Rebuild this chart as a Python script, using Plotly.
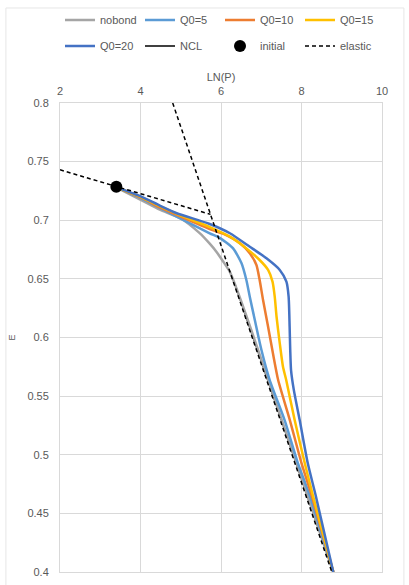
import plotly.graph_objects as go

# ---------------- data ----------------
nobond_lnp = [3.40, 4.03, 4.48, 5.00, 5.47, 5.72, 5.89, 6.05, 6.22, 6.35, 6.58, 6.865, 7.09, 7.51, 7.875, 8.145, 8.79]
nobond_e   = [0.728, 0.7170, 0.7090, 0.7015, 0.6890, 0.6800, 0.6730, 0.6650, 0.6560, 0.6450, 0.6234, 0.5950, 0.5722, 0.5296, 0.4929, 0.4656, 0.400]

q5_lnp = [3.40, 4.03, 4.48, 4.90, 5.72, 5.97, 6.30, 6.51, 6.63, 6.715, 6.84, 7.005, 7.21, 7.58, 7.91, 8.20, 8.79]
q5_e   = [0.728, 0.7185, 0.7105, 0.7030, 0.6889, 0.6850, 0.6760, 0.6633, 0.6490, 0.6348, 0.6149, 0.5893, 0.5637, 0.5296, 0.4929, 0.4656, 0.400]

q10_lnp = [3.40, 4.03, 4.48, 4.90, 5.72, 6.05, 6.47, 6.715, 6.88, 6.96, 7.045, 7.17, 7.29, 7.42, 7.71, 8.00, 8.25, 8.79]
q10_e   = [0.728, 0.7190, 0.7110, 0.7045, 0.6925, 0.6885, 0.6803, 0.6718, 0.6618, 0.6490, 0.6320, 0.6092, 0.5865, 0.5637, 0.5296, 0.4929, 0.4656, 0.400]

q15_lnp = [3.40, 4.03, 4.48, 4.90, 5.72, 6.22, 6.63, 6.96, 7.17, 7.28, 7.335, 7.38, 7.46, 7.54, 7.62, 7.83, 8.08, 8.28, 8.79]
q15_e   = [0.728, 0.7195, 0.7120, 0.7055, 0.6942, 0.6860, 0.6760, 0.6661, 0.6576, 0.6476, 0.6348, 0.6177, 0.5950, 0.5750, 0.5637, 0.5296, 0.4929, 0.4656, 0.400]

q20_lnp = [3.40, 4.03, 4.48, 4.90, 5.72, 6.22, 6.715, 7.13, 7.46, 7.625, 7.68, 7.705, 7.72, 7.74, 7.81, 7.955, 8.155, 8.35, 8.79]
q20_e   = [0.728, 0.7200, 0.7125, 0.7060, 0.6968, 0.6889, 0.6774, 0.6675, 0.6576, 0.6476, 0.6348, 0.6092, 0.5893, 0.5722, 0.5551, 0.5296, 0.4929, 0.4656, 0.400]

ncl_lnp = [6.35, 8.79]
ncl_e   = [0.645, 0.400]

initial_lnp = [3.40]
initial_e   = [0.7285]

# elastic line plus extended (dashed) compression line
elastic_lnp = [2.00, 5.74, None, 4.80, 8.753]
elastic_e   = [0.743, 0.705, None, 0.800, 0.400]

x_ticks = [2, 4, 6, 8, 10]
x_ticktext = ["2", "4", "6", "8", "10"]
y_ticks = [0.4, 0.45, 0.5, 0.55, 0.6, 0.65, 0.7, 0.75, 0.8]
y_ticktext = ["0.4", "0.45", "0.5", "0.55", "0.6", "0.65", "0.7", "0.75", "0.8"]

# ---------------- figure ----------------
FONT = "Liberation Sans"
TXT = "#595959"
GRID = "#d9d9d9"

fig = go.Figure()

fig.add_trace(go.Scatter(x=ncl_lnp, y=ncl_e, mode="lines", name="NCL",
                         line=dict(color="black", width=1.5),
                         legend="legend2", legendrank=2))

curves = [
    ("nobond", nobond_lnp, nobond_e, "#A5A5A5", "legend", 1),
    ("Q0=5", q5_lnp, q5_e, "#5B9BD5", "legend", 2),
    ("Q0=10", q10_lnp, q10_e, "#ED7D31", "legend", 3),
    ("Q0=15", q15_lnp, q15_e, "#FFC000", "legend", 4),
    ("Q0=20", q20_lnp, q20_e, "#4472C4", "legend2", 1),
]
for name, xs, ys, col, lg, rank in curves:
    fig.add_trace(go.Scatter(x=xs, y=ys, mode="lines", name=name,
                             line=dict(color=col, width=2.5, shape="spline", smoothing=0.6),
                             legend=lg, legendrank=rank))

fig.add_trace(go.Scatter(x=elastic_lnp, y=elastic_e, mode="lines", name="elastic",
                         line=dict(color="black", width=1.5, dash="4px,3px"),
                         connectgaps=False, legend="legend2", legendrank=4))

fig.add_trace(go.Scatter(x=initial_lnp, y=initial_e, mode="markers", name="initial",
                         marker=dict(color="black", size=12),
                         legend="legend2", legendrank=3))

leg_common = dict(orientation="h", xref="container", yref="container",
                  x=60 / 409, xanchor="left", yanchor="middle",
                  entrywidth=35, entrywidthmode="pixels",
                  font=dict(family=FONT, size=11, color=TXT),
                  bgcolor="rgba(0,0,0,0)", itemwidth=30, traceorder="normal")

fig.update_layout(
    width=409, height=585,
    margin=dict(l=60, r=27, t=103, b=13, autoexpand=False),
    paper_bgcolor="white", plot_bgcolor="white",
    font=dict(family=FONT, size=11, color=TXT),
    showlegend=True,
    legend=dict(leg_common, y=1 - 20 / 585),
    legend2=dict(leg_common, y=1 - 46 / 585),
    xaxis=dict(range=[2, 10], side="top", tickvals=x_ticks, ticktext=x_ticktext,
               showgrid=True, gridcolor=GRID, gridwidth=1, zeroline=False,
               showline=True, linecolor=GRID, mirror=True, ticks="",
               ticklabelstandoff=3,
               tickfont=dict(size=11, color=TXT),
               title=dict(text="LN(P)", font=dict(size=11, color=TXT), standoff=0)),
    yaxis=dict(range=[0.4, 0.8], tickvals=y_ticks, ticktext=y_ticktext,
               showgrid=True, gridcolor=GRID, gridwidth=1, zeroline=False,
               showline=True, linecolor=GRID, mirror=True, ticks="",
               ticklabelstandoff=8,
               tickfont=dict(size=11, color=TXT),
               title=dict(text="E", font=dict(size=9, color=TXT), standoff=10)),
    shapes=[dict(type="rect", xref="paper", yref="paper",
                 x0=-0.168, x1=1.068, y0=-0.05, y1=1.2026,
                 line=dict(color="#e6e6e6", width=1), layer="below")],
)

fig.write_html("out.html")
